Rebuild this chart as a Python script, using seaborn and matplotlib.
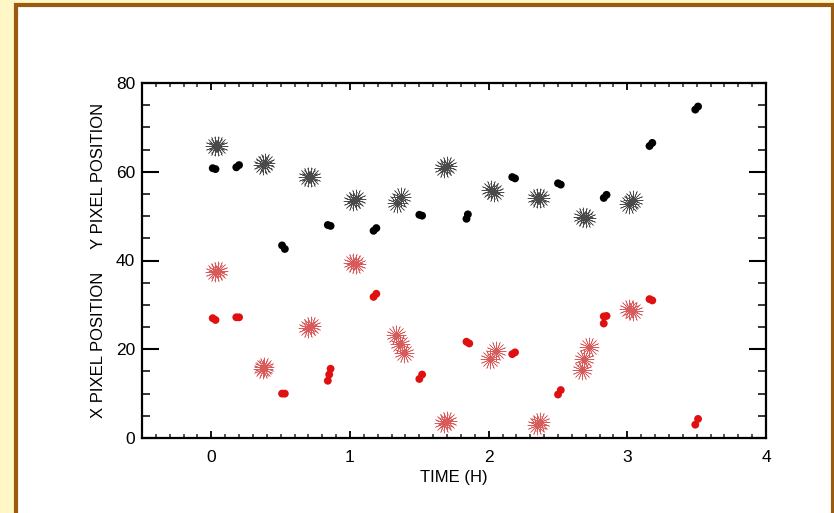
import matplotlib
matplotlib.use("Agg")
import matplotlib.pyplot as plt
import seaborn as sns
import pandas as pd
from matplotlib.patches import Rectangle
from matplotlib.ticker import MultipleLocator

# ---------------- data ----------------
y_dot_t = [0.01, 0.03, 0.18, 0.20, 0.51, 0.53, 0.84, 0.86, 1.17, 1.19, 1.50, 1.52,
           1.84, 1.85, 2.17, 2.19, 2.50, 2.52, 2.83, 2.85, 3.16, 3.18, 3.49, 3.51]
y_dot_v = [60.8, 60.6, 61.0, 61.5, 43.4, 42.6, 48.0, 47.8, 46.7, 47.3, 50.3, 50.1,
           49.4, 50.4, 58.8, 58.5, 57.4, 57.1, 54.1, 54.8, 65.8, 66.5, 74.0, 74.7]

y_ast_t = [0.03, 0.05, 0.37, 0.39, 0.70, 0.72, 1.02, 1.04, 1.34, 1.37,
           1.68, 1.70, 2.02, 2.04, 2.35, 2.37, 2.68, 2.70, 3.01, 3.04]
y_ast_v = [65.8, 65.8, 61.6, 61.9, 58.8, 58.8, 53.4, 53.9, 53.0, 54.3,
           60.8, 61.2, 55.8, 55.4, 54.0, 54.0, 49.9, 49.6, 52.8, 53.6]

x_dot_t = [0.01, 0.03, 0.18, 0.20, 0.51, 0.53, 0.84, 0.85, 0.86, 1.17, 1.19,
           1.50, 1.52, 1.84, 1.86, 2.17, 2.19, 2.50, 2.52, 2.83, 2.85, 2.83,
           3.16, 3.18, 3.49, 3.51]
x_dot_v = [27.0, 26.6, 27.2, 27.2, 10.0, 10.0, 12.9, 14.3, 15.6, 31.8, 32.5,
           13.3, 14.3, 21.7, 21.3, 18.9, 19.3, 9.8, 10.8, 27.4, 27.5, 25.8,
           31.3, 31.0, 3.0, 4.3]

x_ast_t = [0.03, 0.05, 0.37, 0.38, 0.70, 0.72, 1.02, 1.04, 1.33, 1.36, 1.39,
           1.68, 1.70, 2.01, 2.05, 2.35, 2.37, 2.67, 2.69, 2.72, 3.01, 3.04]
x_ast_v = [37.4, 37.6, 15.6, 15.9, 24.9, 25.2, 39.4, 39.1, 23.1, 21.2, 19.1,
           3.4, 3.9, 17.8, 19.5, 2.9, 3.5, 15.3, 17.8, 20.4, 29.1, 28.6]

x_ticks = [0, 1, 2, 3, 4]
y_ticks = [0, 20, 40, 60, 80]

# ---------------- figure ----------------
sns.set_theme(style="ticks")
plt.rcParams["font.family"] = ["Liberation Sans", "DejaVu Sans"]

W, H = 834, 513
fig = plt.figure(figsize=(W / 100, H / 100), dpi=100)
fig.patch.set_facecolor("#FFF8C6")

# white panel with brown frame
fig.add_artist(Rectangle((15.5 / W, -0.05), (832.5 - 15.5) / W, 1.05 - 5 / H,
                         transform=fig.transFigure, facecolor="white",
                         edgecolor="#9A5A10", linewidth=3.0, zorder=0))

ax = fig.add_axes([142 / W, 1 - 438 / H, (766 - 142) / W, (438 - 83) / H])
ax.set_facecolor("white")

dots_y = pd.DataFrame({"t": y_dot_t, "v": y_dot_v})
dots_x = pd.DataFrame({"t": x_dot_t, "v": x_dot_v})
ast_y = pd.DataFrame({"t": y_ast_t, "v": y_ast_v})
ast_x = pd.DataFrame({"t": x_ast_t, "v": x_ast_v})

for df, col in [(ast_y, "#4a4a4a"), (ast_x, "#d85a5a")]:
    for rot in (0, 22.5):
        sns.scatterplot(data=df, x="t", y="v", ax=ax, marker=(8, 2, rot),
                        s=190, color=col, linewidth=0.45, edgecolor=col,
                        legend=False, zorder=3)

sns.scatterplot(data=dots_y, x="t", y="v", ax=ax, marker="o", s=32,
                color="black", edgecolor="none", legend=False, zorder=4)
sns.scatterplot(data=dots_x, x="t", y="v", ax=ax, marker="o", s=32,
                color="#e01010", edgecolor="none", legend=False, zorder=4)

ax.set_xlim(-0.5, 4)
ax.set_ylim(0, 80)
ax.set_xticks(x_ticks)
ax.set_yticks(y_ticks)
ax.xaxis.set_minor_locator(MultipleLocator(0.1))
ax.yaxis.set_minor_locator(MultipleLocator(5))

ax.tick_params(axis="x", which="major", direction="in", length=5, width=1.3,
               top=True, bottom=True, labelsize=12.5, pad=9, colors="black")
ax.tick_params(axis="x", which="minor", direction="in", length=3, width=1.1,
               top=True, bottom=True)
ax.tick_params(axis="y", which="major", direction="in", length=12, width=1.5,
               left=True, right=True, labelsize=12.5, pad=5, colors="black")
ax.tick_params(axis="y", which="minor", direction="in", length=6, width=1.3,
               left=True, right=True)

for sp in ax.spines.values():
    sp.set_linewidth(1.6)
    sp.set_color("black")
    sp.set_visible(True)

ax.set_xlabel("TIME (H)", fontsize=12, labelpad=3, color="black",
              family=["Liberation Sans Narrow", "Liberation Sans", "DejaVu Sans"])
ax.set_ylabel("X PIXEL POSITION     Y PIXEL POSITION", fontsize=12,
              labelpad=7, color="black")

fig.savefig("out.png", dpi=100, facecolor=fig.get_facecolor())
